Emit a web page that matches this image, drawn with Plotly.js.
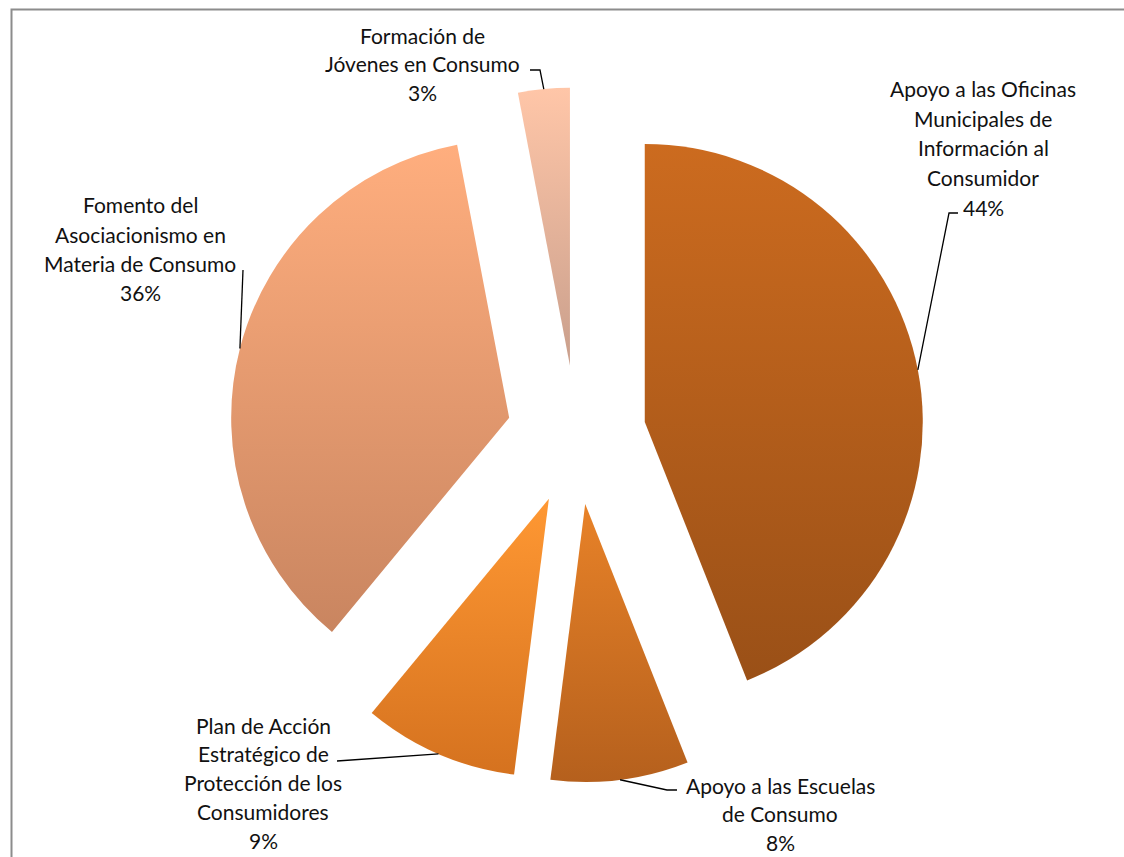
<!DOCTYPE html>
<html>
<head>
<meta charset="utf-8">
<script src="https://cdn.plot.ly/plotly-3.0.1.min.js"></script>
<style>
html,body{margin:0;padding:0;background:#fff;}
#chart{width:1124px;height:857px;}
</style>
</head>
<body>
<div id="chart"></div>
<script>
// ---- data ----
var categories = [
  "Apoyo a las Oficinas Municipales de Información al Consumidor",
  "Apoyo a las Escuelas de Consumo",
  "Plan de Acción Estratégico de Protección de los Consumidores",
  "Fomento del Asociacionismo en Materia de Consumo",
  "Formación de Jóvenes en Consumo"
];
var values = [44, 8, 9, 36, 3];
var labelLines = [
  ["Apoyo a las Oficinas", "Municipales de", "Información al", "Consumidor"],
  ["Apoyo a las Escuelas", "de Consumo"],
  ["Plan de Acción", "Estratégico de", "Protección de los", "Consumidores"],
  ["Fomento del", "Asociacionismo en", "Materia de Consumo"],
  ["Formación de", "Jóvenes en Consumo"]
];

// ---- styles (colors: top, bottom of vertical gradient) ----
var colorsTop = ["#CC6B1F", "#E88228", "#FF9833", "#FFAE7E", "#FFC6A8"];
var colorsBottom = ["#9A5017", "#B5601D", "#D5721F", "#C98560", "#C99F8C"];
var colorsMid = ["#B45E1B", "#CE7123", "#EA8529", "#E49A6F", "#E4B39A"];

var W = 1124, H = 857;
var cx = 576.5, cy = 435, half = 347.5, pull = 0.25;

// label layout (text center x, first line y, line spacing) and leader elbow points (px)
var labelPos = [
  {x: 983, y: 89, dy: 29.5},
  {x: 780, y: 785, dy: 28.5},
  {x: 263, y: 725, dy: 28.8},
  {x: 140, y: 205, dy: 29.3},
  {x: 422, y: 35, dy: 28.5}
];
var elbows = [
  [[949, 213], [958, 213]],
  [[667, 790], [677, 790]],
  [[337, 761]],
  [[243, 270]],
  [[540, 70], [530, 70]]
];

function px2x(x){ return x / W; }
function px2y(y){ return 1 - y / H; }

var total = values.reduce(function(a,b){return a+b;}, 0);
var annotations = [];
var shapes = [];
var cum = 0;
for (var i = 0; i < values.length; i++) {
  var theta = 2 * Math.PI * (cum + values[i] / 2) / total;
  cum += values[i];
  var ax = cx + half * Math.sin(theta);
  var ay = cy - half * Math.cos(theta);
  var pts = [[ax, ay]].concat(elbows[i]);
  var d = pts.map(function(p, k){ return (k ? "L" : "M") + px2x(p[0]).toFixed(5) + "," + px2y(p[1]).toFixed(5); }).join(" ");
  shapes.push({type: "path", xref: "paper", yref: "paper", path: d, line: {color: "#000", width: 1.3}});
  var lines = labelLines[i].concat([Math.round(values[i] / total * 100) + "%"]);
  for (var k = 0; k < lines.length; k++) {
    annotations.push({
      xref: "paper", yref: "paper", showarrow: false,
      x: px2x(labelPos[i].x), y: px2y(labelPos[i].y + k * labelPos[i].dy),
      xanchor: "center", yanchor: "middle",
      text: lines[k],
      font: {family: "Lato, 'Open Sans', sans-serif", size: 21, color: "#111"}
    });
  }
}

// frame border
shapes.push({type: "rect", xref: "paper", yref: "paper",
  x0: px2x(11.5), y0: px2y(H + 10), x1: px2x(W + 10), y1: px2y(9.5),
  line: {color: "#8C8C8C", width: 2}, layer: "below"});

var trace = {
  type: "pie",
  labels: categories,
  values: values,
  sort: false,
  direction: "clockwise",
  rotation: 0,
  pull: values.map(function(){ return pull; }),
  textinfo: "none",
  hoverinfo: "label+percent",
  marker: {colors: colorsMid, line: {width: 0}},
  domain: {x: [(cx - half) / W, (cx + half) / W], y: [px2y(cy + half), px2y(cy - half)]}
};

var layout = {
  width: W, height: H,
  margin: {l: 0, r: 0, t: 0, b: 0},
  paper_bgcolor: "#fff",
  showlegend: false,
  annotations: annotations,
  shapes: shapes
};

Plotly.newPlot("chart", [trace], layout, {displayModeBar: false, staticPlot: true}).then(function(gd){
  var svg = gd.querySelector(".main-svg");
  var defs = svg.querySelector("defs");
  var ns = "http://www.w3.org/2000/svg";
  var paths = gd.querySelectorAll(".pielayer .slice path.surface");
  paths.forEach(function(p, idx){
    var g = document.createElementNS(ns, "linearGradient");
    g.setAttribute("id", "sliceGrad" + idx);
    g.setAttribute("x1", "0"); g.setAttribute("y1", "0");
    g.setAttribute("x2", "0"); g.setAttribute("y2", "1");
    var s1 = document.createElementNS(ns, "stop");
    s1.setAttribute("offset", "0"); s1.setAttribute("stop-color", colorsTop[idx]);
    var s2 = document.createElementNS(ns, "stop");
    s2.setAttribute("offset", "1"); s2.setAttribute("stop-color", colorsBottom[idx]);
    g.appendChild(s1); g.appendChild(s2);
    defs.appendChild(g);
    p.style.fill = "url(#sliceGrad" + idx + ")";
  });
});
</script>
</body>
</html>
